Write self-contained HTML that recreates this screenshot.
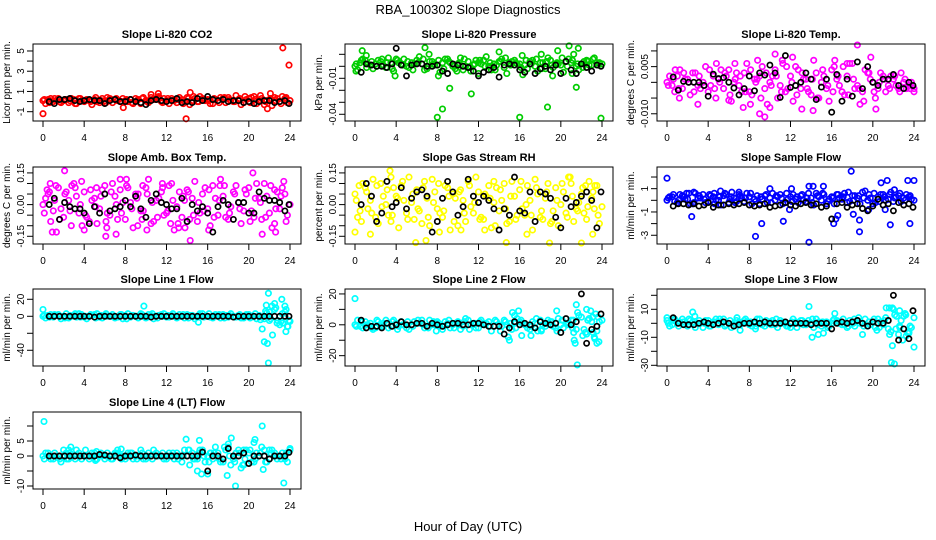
<!DOCTYPE html>
<html><head><meta charset="utf-8"><style>
html,body{margin:0;padding:0;background:#fff}
svg{display:block;font-family:"Liberation Sans",sans-serif}
</style></head><body>
<svg id="chart" width="936" height="540" viewBox="0 0 936 540" xmlns="http://www.w3.org/2000/svg">
<text x="468" y="14" text-anchor="middle" font-size="13">RBA_100302  Slope Diagnostics</text>
<text x="468" y="531" text-anchor="middle" font-size="13">Hour of Day (UTC)</text>
</svg>
<script>
const HOURS=[0,0.5,1,1.5,2,2.5,3,3.5,4,4.5,5,5.5,6,6.5,7,7.5,8,8.5,9,9.5,10,10.5,11,11.5,12,12.5,13,13.5,14,14.5,15,15.5,16,16.5,17,17.5,18,18.5,19,19.5,20,20.5,21,21.5,22,22.5,23,23.5,24];
const HOURS_B=[0.6,1.1,1.6,2.1,2.6,3.1,3.6,4.0,4.5,5.0,5.5,6.0,6.5,7.0,7.5,8.0,8.5,9.0,9.5,10.0,10.5,11.0,11.5,12.0,12.5,13.0,13.5,14.0,14.5,15.0,15.5,16.0,16.5,17.0,17.5,18.0,18.5,19.0,19.5,20.0,20.5,21.0,21.5,22.0,22.5,23.0,23.5,23.9];
const X_TICKS=[0,4,8,12,16,20,24];

const p1A=[0.1,0.2,0,0.3,0.1,-0.1,0.2,0.3,0,0.1,0.2,-0.1,0.1,0.3,0.2,0,0.1,0.2,0.3,-0.2,0.1,0.4,0.2,0,0.1,0.3,-0.1,0.2,0.4,0.1,0,0.3,0.2,-0.2,0.1,0.3,0.4,0,0.2,-0.1,0.3,0.5,0.1,-0.3,0.2,0.4,0,0.3,0.1];
const p1B=[-0.2,0.3,0.1,-0.1,0.2,0.3,-0.2,0.1,0.2,-0.3,0,0.3,0.4,-0.1,0.1,0.3,0,-0.2,0.2,0.4,-0.1,0.2,0.5,0.3,-0.2,0.1,0.4,0,-0.3,0.3,0.5,0.1,-0.2,0.2,0.4,-0.1,0.1,0.6,-0.3,0.2,0.4,-0.2,0.3,0.1,-0.4,0.3,0.5,-0.1,0.2];
const p1C=[0.2,-0.1,0.3,0,0.2,0.1,-0.2,0.3,0.1,0,0.4,0.1,-0.1,0.2,0.3,0,0.2,-0.1,0.1,0.3,0,0.2,0.4,-0.1,0.3,0.1,0.2,-0.2,0.3,0.5,0,0.2,0.1,0.3,-0.1,0.4,0.2,0,0.3,0.5,-0.1,0.2,0.6,0,0.3,0.1,-0.2,0.4,0.2];
const p1Out=[[0,-1.2],[13.9,-1.7],[23.3,5.3],[23.9,3.6],[14.3,0.9],[11.2,0.8],[7.8,-0.6],[21.8,-0.7],[22.1,0.8],[10.5,0.7]];
const p1K=[0,-0.2,0.2,0.2,0.3,0.1,0,0.1,0.2,0.1,0.1,-0.2,0.1,0.2,0,0,0.2,0,-0.1,-0.3,0.1,0.2,0.1,0,0.1,0.3,-0.1,0,-0.1,0.3,0.1,0.5,0.2,0.1,0.2,0,0.1,0.1,-0.1,0,-0.2,0,0.1,0.1,-0.1,0,0.1,-0.2];
const p1Ticks=[-1,0,1,2,3,4,5];
const p1Labels=["-1","","1","","3","","5"];

const p2A=[0,3,5,1,2,4,-1,3,6,2,0,3,5,2,-2,4,1,3,6,0,2,-3,4,1,3,5,0,2,4,-1,3,5,2,1,4,0,3,-2,5,2,1,4,3,0,2,5,1,3,2];
const p2B=[-3,6,2,-2,5,1,7,-4,3,6,-1,2,8,-3,4,1,-5,6,3,-2,7,0,-4,5,2,8,-3,1,6,-6,4,2,9,-2,5,-4,3,7,-1,2,-5,6,10,-3,4,1,7,3,-2];
const p2C=[2,5,-1,4,0,6,3,-2,5,1,4,-3,3,6,0,2,5,-2,4,1,3,6,-1,2,5,0,3,-3,4,7,1,3,-1,5,2,6,-2,4,1,3,7,0,5,2,-1,4,6,1,3];
const p2Out=[[0.1,-4],[0.7,13],[1.1,9],[3.9,-8],[6.8,15.5],[7.2,10],[8,-42.5],[8.5,-35.6],[9.2,-18.3],[11.3,-23],[16,-42.5],[18.7,-34],[23.9,-43.3],[21.5,-17.5],[20.8,17],[21.7,15],[19.7,13],[8.1,-8],[9.9,-4],[12,-6],[16.3,-7],[19.2,-8],[21.1,-6],[14,12],[18.1,10]];
const p2K=[-5,2,1,0,0,-1,2,15,1,-8,1,2,2,0,0,1,-4,-6,2,1,0,-1,-4,-8,-5,-3,-1,-9,1,2,1,-3,-5,2,-6,-2,0,-3,1,-6,4,-3,-6,2,-1,-4,1,0];
const p2Ticks=[10,0,-10,-20,-30,-40];
const p2Labels=["","","-0.01","","","-0.04"];

const p3A=[0,-1,2,-2,1,3,-1,0,-3,2,1,-2,4,0,-1,3,-3,1,2,-2,0,4,-1,-3,2,5,-2,1,-4,3,0,-2,4,1,-3,2,6,-1,-3,3,0,-2,2,-1,1,-2,0,-1,-2];
const p3B=[2,-3,4,1,-4,3,-2,5,-1,-5,4,2,-6,3,-3,6,-4,1,5,-7,2,-5,6,-2,-6,4,1,-3,7,-5,2,-6,5,-1,-4,6,-2,-7,4,1,-5,3,-3,2,-1,3,-2,0,-3];
const p3C=[-1,1,-2,3,0,-3,2,-1,4,-2,0,3,-4,1,2,-3,4,0,-5,3,-1,2,-3,5,0,-4,3,-2,1,-5,4,-1,-3,2,5,-4,1,-2,-6,3,-3,0,1,-2,2,-3,1,-2,-1];
const p3Out=[[1.2,-5],[3,-7],[6,-5.7],[7.4,-8],[8.1,-7],[9,-10],[9.5,-11],[10,-8],[10.5,9],[11.2,7],[12.2,8],[14.2,-9],[13.1,-8.5],[18.5,12],[19.8,8],[20.3,-8.5],[16.3,7],[17.5,6],[8.8,7],[24,-3],[0.8,4],[4.8,6],[6.6,6]];
const p3K=[1.7,-2.5,0.3,0,0,0,-1,-4.4,2.6,1.2,1.5,0,-1.8,-4,-2,2,-2.7,3,2.3,5.5,3,-4.8,8.5,-1.6,-1,0,3,1,-5.5,-1.5,1,-9.5,2.5,-6,1,-4.4,6.5,-2,5,0,-1,1,1,2.5,-1,-2,0,-1];
const p3Ticks=[10,5,0,-5,-10];
const p3Labels=["","0.005","","","-0.010"];

const p4A=[0,5,-3,8,-6,2,10,-4,6,-8,3,-2,9,-5,4,7,-7,1,5,-3,8,-9,2,6,-4,10,-1,-6,7,3,-8,5,-2,9,-5,4,-7,6,1,-3,8,-6,3,10,-4,7,-2,5,0];
const p4B=[3,-8,9,-2,6,-10,4,11,-6,2,-9,7,-4,10,-7,1,8,-11,5,-3,12,-8,3,-5,9,-12,6,2,-7,11,-4,8,-10,3,12,-6,-1,9,-9,5,-3,10,-7,4,-11,6,8,-5,2];
const p4C=[-4,6,2,-7,5,-3,8,0,-5,7,-1,4,-8,6,0,-4,9,-2,3,-7,5,1,-6,8,-3,2,-9,4,6,-5,1,-3,7,-6,2,9,-4,5,-2,7,-8,3,1,-6,9,-2,4,-8,3];
const p4Out=[[0.4,7],[0.7,10],[0.9,-13],[1.3,-13],[2.1,16],[2.8,9],[3.8,-10],[4,-12],[6.1,-15],[6.2,-11],[7.1,-14],[8.1,12],[9.7,9],[10.1,-12],[11.6,10],[12.4,-9],[13.2,-11],[13.8,-11],[14.3,-17],[16.1,-12],[17.2,9],[20.4,15],[21.3,-14],[22.6,-13],[23.4,11],[22.5,-9],[7.5,12],[5.2,8],[9.2,-10]];
const p4K=[0,3,-7,1,-1,-2,-2,-4,-9,-1,-4,5,-3,-2,-1,2,-1,4,-2,-6,2,5,1,0,-2,-2,3,-8,0,-3,-1,-4,-13,-1,2,0,-7,1,1,-4,-4,6,3,2,2,1,-3,0];
const p4Ticks=[15,10,5,0,-5,-10,-15];
const p4Labels=["0.15","","","0.00","","","-0.15"];

const p5A=[5,-3,8,2,-6,10,0,-8,4,9,-4,1,7,-9,3,12,-2,-6,8,5,-10,2,11,-4,6,-7,9,1,-3,10,-8,4,7,-5,2,12,-6,3,-9,8,0,-4,10,-2,5,-7,3,9,-1];
const p5B=[-6,10,-2,12,-9,4,-5,8,-11,2,13,-7,-3,11,-10,6,-4,9,-12,3,7,-8,-1,13,-6,4,-11,8,2,-9,11,-5,-2,9,-12,5,-7,10,-3,-10,6,13,-8,1,-4,11,-2,-9,4];
const p5C=[2,-8,6,-4,9,-1,7,-5,3,11,-7,5,-2,8,-6,1,10,-3,4,-8,6,-4,9,1,-7,5,3,-10,7,-2,4,-7,11,0,-5,8,-3,6,-8,2,10,-6,4,-3,8,-1,6,-5,2];
const p5Out=[[0,-13],[0.4,9],[3.4,16],[3.5,13],[5.9,-18],[6.9,-17],[8.2,-13],[14.7,-18],[16.7,-14],[18.9,-22],[20.9,13],[22,-21],[23.1,-14],[22.4,9],[23.3,9],[13.5,11],[1.5,-14],[10.3,-12],[12.6,-12]];
const p5K=[0,10,4,-8,-4,11,-1,1,8,-2,3,6,7,4,-13,-8,3,11,6,-5,-1,12,4,1,4,2,-2,-12,-2,-5,13,-3,-4,6,-8,6,5,3,-6,-11,3,-1,1,4,6,2,-11,6];
const p5Ticks=[15,10,5,0,-5,-10,-15];
const p5Labels=["0.15","","","0.00","","","-0.15"];

const p6A=[0,0.3,-0.2,0.4,0.1,-0.3,0.2,0.5,-0.1,0.3,0,0.4,-0.2,0.2,0.5,-0.1,0.3,0.1,-0.3,0.4,0.2,0,0.5,-0.2,0.3,0.1,0.4,-0.1,0.2,0.6,0,-0.3,0.3,0.5,0.1,-0.2,0.4,0.2,0.7,0,-0.3,0.3,0.5,0.1,-0.1,0.4,0.2,0.3,0];
const p6B=[0.3,-0.1,0.5,0.1,-0.3,0.6,0.2,-0.2,0.4,0,-0.4,0.5,0.3,-0.1,0.2,0.6,-0.3,0.4,0.1,-0.2,0.6,0.3,-0.3,0.1,0.5,-0.2,0,0.6,-0.4,0.3,0.5,0.1,-0.3,0.2,0.6,-0.1,0.4,-0.3,0.8,0.2,-0.2,0.5,0,0.7,0.3,-0.1,0.5,0.1,0.3];
const p6C=[0.2,0.5,0,0.3,0.6,-0.2,0.4,0.1,0.5,-0.3,0.3,0.6,0.1,-0.2,0.4,0.2,0.6,-0.1,0.3,0.5,-0.2,0.4,0.2,0.6,-0.1,0.3,0.5,0.2,-0.2,0.4,0.6,-0.1,0.2,0.5,0.3,0.7,0,0.4,0.2,0.5,0.6,-0.1,0.3,0.5,0.2,0.6,0,0.4,0.2];
const p6Out=[[0,1.9],[1.9,0.6],[2.4,-1.4],[2.6,0.7],[4.6,0.6],[5.2,0.8],[6.3,0.7],[7,0.7],[8.6,-3.1],[9.2,-2],[10,1],[11.3,-1.8],[11.9,-0.8],[12.1,1],[13.8,-3.6],[13.8,1.2],[14.2,1.2],[15.2,1.2],[16.2,-2],[16.6,-1.3],[16.4,-1.6],[17.9,2.5],[18.1,-1.2],[18.7,-2.7],[18.7,-1.7],[20.8,1.5],[21.4,1.7],[21.7,-2.1],[22.1,0.9],[23.4,1.7],[23.6,-2],[24,1.7],[19.6,-0.8],[21.2,-0.8]];
const p6K=[-0.5,-0.3,-0.3,-0.4,-0.3,-0.5,-0.4,-0.2,-0.6,-0.4,-0.4,-0.3,-0.4,-0.3,-0.2,-0.4,-0.5,-0.4,-0.3,-0.6,-0.5,-0.4,-0.2,-0.4,-0.5,-0.3,-0.2,-0.4,-0.3,-0.6,-0.5,-1.6,-0.3,-0.2,-0.6,-0.4,-0.3,-0.7,-0.9,-0.5,0.1,-0.4,-0.3,-0.9,-0.2,-0.4,-0.3,-0.6];
const p6Ticks=[-3,-2,-1,0,1,2];
const p6Labels=["-3","","-1","","1",""];

const p7A=[0,1,-1,2,0,-2,1,3,-1,0,2,-1,1,0,-2,2,1,-1,0,3,-2,1,0,2,-1,1,-2,0,2,1,-1,3,0,-2,1,2,-1,0,1,-2,2,0,1,-3,-5,8,-10,5,-6];
const p7B=[-2,2,1,-3,3,0,-1,2,-3,1,3,-2,0,2,-1,-3,3,1,-2,0,2,-3,1,3,-1,0,2,-2,1,-3,3,0,-1,2,-2,1,3,-1,-2,2,0,-3,-1,4,12,-8,3,-12,4];
const p7C=[1,-1,2,0,-2,1,3,-1,0,2,-2,1,3,0,-1,2,-3,1,0,2,-1,3,-2,0,1,3,-1,2,-2,0,1,-1,3,0,2,-2,1,-1,2,0,-2,3,-4,6,-3,10,-6,8,-2];
const p7Out=[[0,8],[9.8,12],[15.1,-7],[21.3,-15],[21.5,-30],[21.8,-32],[21.9,27],[21.7,13],[22.3,-22],[22.5,15],[23.2,20],[23.5,12],[23.6,-18],[23.8,-12],[23.3,-8],[21.9,-55],[22.8,-5],[22,5],[23.9,-5]];
const p7K=[0,0,0,0,0,0,0,0,0,-1,0,0,0,0,0,0,0,0,0,0,-1,0,0,0,0,0,0,0,0,0,0,0,0,0,0,0,-1,0,0,0,0,0,0,0,0,0,0,0];
const p7Ticks=[20,0,-20,-40];
const p7Labels=["20","0","","-40"];

const p8A=[0,-1,2,1,-2,0,3,-1,1,2,-2,0,1,3,-1,0,2,-3,1,0,2,-1,3,0,-2,1,2,-1,0,3,-2,1,2,0,-3,1,3,-1,2,-2,0,1,3,-3,5,-6,2,-4,3];
const p8B=[3,-2,0,-3,2,1,-2,3,-1,0,-3,2,1,-2,3,0,-1,2,-2,1,-3,4,0,-2,3,1,-4,2,-1,0,-3,4,1,-2,2,-4,0,3,-1,4,-2,1,-5,6,-3,4,-8,2,-1];
const p8C=[-1,2,0,-2,3,-1,1,2,-3,0,2,-1,3,0,-2,2,1,-1,3,-2,0,2,-3,1,2,0,-1,3,-4,2,1,-2,3,0,-1,4,-3,1,2,-4,3,0,-2,8,-7,3,-5,5,-3];
const p8Out=[[0,17],[7.9,-4],[15.3,8],[15.5,6],[14.9,-8],[15,-10],[15.9,9],[16.2,-7],[17.1,-7],[18.1,-4],[19.6,9],[21.3,-10],[21.4,-12],[21.5,13],[21.6,-26],[21.2,3],[22.5,10],[22.9,9],[23.1,5],[22.4,-5],[23.3,-9],[23.5,-12],[23.7,-11],[23.4,7]];
const p8K=[3,-2,-1,-1,-2,1,-1,0,2,0,0,1,1,-1,1,0,-1,0,1,1,0,0,1,1,0,-1,-1,-1,-6,-2,2,0,1,0,-2,2,1,0,1,-5,4,0,2,20,-12,-3,-1,7];
const p8Ticks=[20,10,0,-10,-20];
const p8Labels=["20","","0","","-20"];

const p9A=[2,-1,0,3,-2,1,0,-3,2,1,-1,3,0,-2,1,2,-1,0,3,-2,1,-1,2,0,-3,1,2,-1,0,3,-2,1,0,2,-1,-3,1,2,0,-2,1,3,-1,-4,10,-8,5,-6,4];
const p9B=[-2,3,1,-1,2,-3,0,2,-2,3,1,-1,-3,2,0,1,-2,3,-1,0,2,-3,1,-2,3,0,-1,2,-3,1,0,-2,3,1,-1,2,-2,0,3,-1,-3,1,4,-6,-4,2,-9,-3,-5];
const p9C=[0,2,-2,1,3,-1,2,0,-2,1,3,-2,2,0,-1,3,1,-2,0,2,-1,3,0,-2,1,-3,2,0,3,-1,1,-3,2,0,3,-2,0,4,-2,1,3,-3,2,-8,6,-3,7,-2,3];
const p9Out=[[0,4],[2.5,8],[2.7,5],[6.8,4],[7.1,-5],[8.6,-4],[13.8,12],[14.1,-10],[14.7,-8],[15.2,-7],[16.3,7],[18.2,3],[19,-8],[21.3,11],[21.6,11],[21.9,11],[21.8,-28],[22.1,-29],[21.9,-16],[22.3,5],[22.6,9],[22.9,-12],[23.2,6],[23.4,-7],[23.5,-7],[24,-17],[22.6,-2],[20.4,-5]];
const p9K=[4,0,-1,-1,-1,0,1,0,-1,0,1,0,-2,-1,0,0,1,0,1,0,0,0,1,0,0,0,0,-1,0,0,0,-4,0,1,0,1,2,0,-2,1,0,0,2,20,-12,-4,-11,9];
const p9Ticks=[20,10,0,-10,-20,-30];
const p9Labels=["","10","","-10","","-30"];

const p10A=[0,1,-1,0,2,-1,0,1,0,-1,1,0,-1,0,1,0,-1,1,0,2,-1,0,1,0,-1,0,1,-2,0,1,-1,2,0,-1,1,-2,3,-1,2,-3,1,-2,0,2,-1,1,0,-1,2];
const p10B=[1,-1,0,-2,1,0,2,-1,0,1,-1,0,1,-1,2,0,1,-1,0,-1,1,2,0,-1,1,-1,0,2,-3,-1,2,-2,1,3,-2,2,-3,1,-4,2,-2,1,3,-2,2,-1,1,-2,1];
const p10C=[-1,0,1,-1,0,1,-1,0,2,0,-1,1,0,-1,1,-1,0,1,-1,1,0,-1,0,1,0,1,-1,0,2,-1,1,0,-2,1,-1,3,0,-2,1,-1,2,-1,1,-2,1,0,-1,1,0];
const p10Out=[[0.1,11.5],[2.5,2],[2.7,3],[2.3,-1],[5.1,-1.5],[5.2,1.5],[7.6,2.3],[13.9,5.6],[15,-5],[15.2,5.2],[15.4,-6],[16,-6],[17.9,-6.5],[18,4],[18.3,6],[18.7,-10],[19.4,-3],[19.5,2],[20.5,4.5],[20.6,5.5],[21.3,10],[21.4,-4.5],[22,2],[23.4,-9],[24,2.5],[14.2,2],[16.3,1]];
const p10K=[0,0,0,0,0,0,0,0,0,0,0.5,0.3,0,0,-0.6,0,0,0.3,0,0,0,0,0,0,0,0,0,0,0,0,1.3,-5,0,0,-1,2.5,0,0,1,-2.5,0,0,0,-1,0,0,0,1.2];
const p10Ticks=[-10,-5,0,5,10];
const p10Labels=["-10","","0","5",""];

const panels=[
 {name:"co2",title:"Slope Li-820 CO2",yt:"Licor ppm per min.",c:0,r:0,top:5.69,bot:-1.92,col:"#ff0000",A:p1A,B:p1B,C:p1C,O:p1Out,K:p1K,T:p1Ticks,L:p1Labels},
 {name:"pressure",title:"Slope Li-820 Pressure",yt:"kPa per min.",c:1,r:0,top:18.6,bot:-45.6,col:"#00cd00",A:p2A,B:p2B,C:p2C,O:p2Out,K:p2K,T:p2Ticks,L:p2Labels},
 {name:"li820-temp",title:"Slope Li-820 Temp.",yt:"degrees C per min.",c:2,r:0,top:12.2,bot:-12.3,col:"#ff00ff",A:p3A,B:p3B,C:p3C,O:p3Out,K:p3K,T:p3Ticks,L:p3Labels},
 {name:"amb-box-temp",title:"Slope Amb. Box Temp.",yt:"degrees C per min.",c:0,r:1,top:17.8,bot:-18.65,col:"#ff00ff",A:p4A,B:p4B,C:p4C,O:p4Out,K:p4K,T:p4Ticks,L:p4Labels},
 {name:"gas-stream-rh",title:"Slope Gas Stream RH",yt:"percent per min.",c:1,r:1,top:17.8,bot:-18.65,col:"#ffff00",A:p5A,B:p5B,C:p5C,O:p5Out,K:p5K,T:p5Ticks,L:p5Labels},
 {name:"sample-flow",title:"Slope Sample Flow",yt:"ml/min per min.",c:2,r:1,top:2.86,bot:-3.75,col:"#0000ff",A:p6A,B:p6B,C:p6C,O:p6Out,K:p6K,T:p6Ticks,L:p6Labels},
 {name:"line1-flow",title:"Slope Line 1 Flow",yt:"ml/min per min.",c:0,r:2,top:32.1,bot:-58.5,col:"#00ffff",A:p7A,B:p7B,C:p7C,O:p7Out,K:p7K,T:p7Ticks,L:p7Labels},
 {name:"line2-flow",title:"Slope Line 2 Flow",yt:"ml/min per min.",c:1,r:2,top:23.2,bot:-26.7,col:"#00ffff",A:p8A,B:p8B,C:p8C,O:p8Out,K:p8K,T:p8Ticks,L:p8Labels},
 {name:"line3-flow",title:"Slope Line 3 Flow",yt:"ml/min per min.",c:2,r:2,top:24.5,bot:-30.5,col:"#00ffff",A:p9A,B:p9B,C:p9C,O:p9Out,K:p9K,T:p9Ticks,L:p9Labels},
 {name:"line4-flow",title:"Slope Line 4 (LT) Flow",yt:"ml/min per min.",c:0,r:3,top:14.67,bot:-11,col:"#00ffff",A:p10A,B:p10B,C:p10C,O:p10Out,K:p10K,T:p10Ticks,L:p10Labels}
];
const NS="http://www.w3.org/2000/svg";
const svg=document.getElementById('chart');
const COLX=[33,345,657], ROWY=[44,167,289,412], W=268, H=77;
function mk(tag,attrs,parent,txt){const e=document.createElementNS(NS,tag);for(const k in attrs)e.setAttribute(k,attrs[k]);if(txt!==undefined)e.textContent=txt;parent.appendChild(e);return e;}
panels.forEach(p=>{
 const x0=COLX[p.c], y0=ROWY[p.r];
 const xs=h=>x0+10+h*(247/24);
 const ys=v=>y0+(p.top-v)/(p.top-p.bot)*H;
 const g=mk('g',{},svg);
 
 
 const t=mk('text',{x:x0+W/2,y:y0-6,'text-anchor':'middle','font-size':11,'font-weight':'bold'},g,p.title);
 
 
 const yt=mk('text',{x:0,y:0,transform:`translate(${x0-23},${y0+H/2}) rotate(-90)`,'text-anchor':'middle','font-size':10},g,p.yt);
 
 
 const pts=mk('g',{fill:'none','stroke-width':1.5},g);
 
 
 const clip=v=>Math.max(y0+1,Math.min(y0+H-1,ys(v)));
 const drawPts=(arrX,arrY,color,r,sw)=>{arrY.forEach((v,i)=>{const c=mk('circle',{cx:xs(arrX[i]).toFixed(1),cy:clip(v).toFixed(1),r:r,stroke:color,'stroke-width':sw},pts);});};
 drawPts(HOURS,p.A,p.col,2.7,1.7);
 drawPts(HOURS.map(h=>h+0.25).slice(0,48),p.B.slice(0,48),p.col,2.7,1.7);
 drawPts(HOURS.map(h=>h+0.125).slice(0,48),p.C.slice(0,48),p.col,2.7,1.7);
 drawPts(p.O.map(o=>o[0]),p.O.map(o=>o[1]),p.col,2.7,1.7);
 drawPts(HOURS_B,p.K,'#000',2.6,1.7);
 const box=mk('rect',{x:x0,y:y0,width:W,height:H,fill:'none',stroke:'#000','stroke-width':1},g);
 
 
 const ax=mk('g',{stroke:'#000','stroke-width':1,'font-size':10},g);
 
 
 X_TICKS.forEach(h=>{const x=xs(h);mk('line',{x1:x,x2:x,y1:y0+H,y2:y0+H+6},ax);const tl=mk('text',{x:x,y:y0+H+20,'text-anchor':'middle',stroke:'none',fill:'#000'},ax,String(h));});
 const ay=mk('g',{stroke:'#000','stroke-width':1,'font-size':10},g);
 
 
 p.T.forEach((v,i)=>{const y=ys(v);if(y<y0-0.5||y>y0+H+0.5)return;mk('line',{x1:x0,x2:x0-6,y1:y,y2:y},ay);if(p.L[i]){const tl=mk('text',{x:0,y:0,transform:`translate(${x0-9},${y}) rotate(-90)`,'text-anchor':'middle',stroke:'none',fill:'#000'},ay,p.L[i]);}});
});
</script>
</body></html>
